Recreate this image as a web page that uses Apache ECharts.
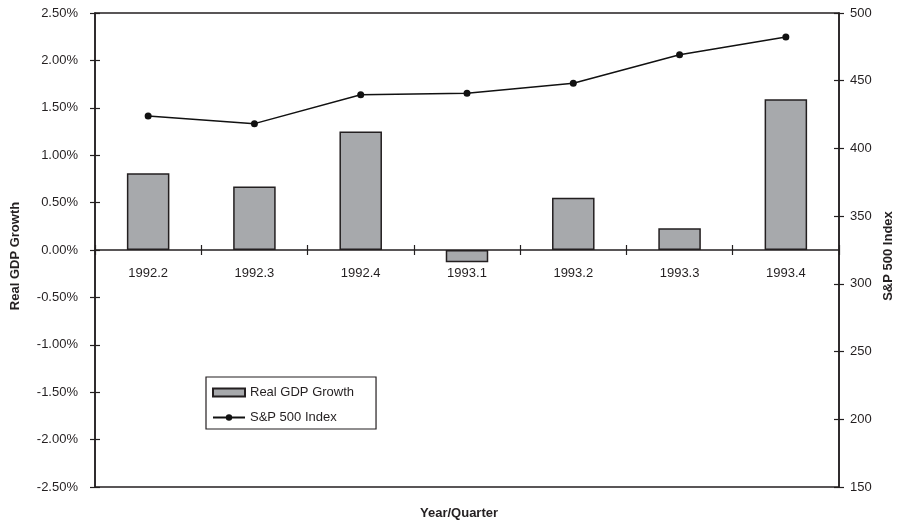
<!DOCTYPE html>
<html>
<head>
<meta charset="utf-8">
<script src="https://cdn.jsdelivr.net/npm/echarts@6/dist/echarts.min.js"></script>
<style>html,body{margin:0;padding:0;background:#fff}#c{width:897px;height:523px}</style>
</head>
<body>
<div id="c"></div>
<script>
const categories = ['1992.2','1992.3','1992.4','1993.1','1993.2','1993.3','1993.4'];
const gdpGrowth = [0.81, 0.67, 1.25, -0.13, 0.55, 0.23, 1.59];
const sp500 = [423.9, 418.3, 439.7, 440.7, 448.1, 469.2, 482.3];

const FONT = 'Liberation Sans, Arial, sans-serif';
const INK = '#231f20';
const TICK = {color: INK, width: 1.2};

const chart = echarts.init(document.getElementById('c'), null, {renderer: 'canvas'});
const L = 95, R = 58, T = 13, B = 36, H = 523;
const zeroY = T + (H - T - B) / 2;
const hidden = {show: false};
const hiddenValue = (gi) => ({type: 'value', gridIndex: gi, show: false, min: -1, max: 1});
const nameText = (text, x, y) => ({
  type: 'text', x: x, y: y, rotation: Math.PI / 2,
  style: {text: text, font: 'bold 13px ' + FONT, fill: INK, align: 'center', verticalAlign: 'middle', textAlign: 'center', textVerticalAlign: 'middle'}
});
chart.setOption({
  animation: false,
  backgroundColor: '#fff',
  textStyle: {fontFamily: FONT, color: INK},
  grid: [
    {left: L, right: R, top: T, bottom: B, show: true, borderColor: INK, borderWidth: 1.5, backgroundColor: 'transparent', outerBoundsMode: 'none', containLabel: false},
    {left: L, right: R, top: T, bottom: B, show: false, outerBoundsMode: 'none', containLabel: false},
    {left: L, right: R, top: T, bottom: H - zeroY, show: false, outerBoundsMode: 'none', containLabel: false},
    {left: L, right: R, top: zeroY, bottom: B, show: false, outerBoundsMode: 'none', containLabel: false}
  ],
  legend: {
    orient: 'vertical', left: 206, top: 377,
    borderColor: INK, borderWidth: 1.2, padding: [9, 22, 5, 6],
    itemWidth: 32, itemHeight: 8, itemGap: 12,
    textStyle: {fontFamily: FONT, fontSize: 13, color: INK},
    data: [{name: 'Real GDP Growth', icon: 'rect'}, {name: 'S&P 500 Index'}]
  },
  graphic: [
    {type: 'text', left: 420, top: 507, style: {text: 'Year/Quarter', font: 'bold 13px ' + FONT, fill: INK}},
    nameText('Real GDP Growth', 15, 256),
    nameText('S&P 500 Index', 888, 256)
  ],
  xAxis: [
    {type: 'category', data: categories, gridIndex: 0, show: false},
    {type: 'category', data: categories, gridIndex: 1, show: false},
    {
      type: 'category', data: categories, gridIndex: 2, position: 'bottom',
      axisLine: {show: true, onZero: false, lineStyle: {color: INK, width: 1.5}},
      axisTick: {show: true, inside: false, length: 5, lineStyle: TICK},
      axisLabel: {margin: 17, fontSize: 13, color: INK, fontFamily: FONT},
      splitLine: hidden
    },
    {
      type: 'category', data: categories, gridIndex: 3, position: 'top',
      axisLine: {show: false, onZero: false},
      axisTick: {show: true, inside: false, length: 5, lineStyle: TICK},
      axisLabel: hidden, splitLine: hidden
    }
  ],
  yAxis: [
    {
      type: 'value', gridIndex: 0, min: -2.5, max: 2.5, interval: 0.5, position: 'left',
      axisLine: {show: true, onZero: false, lineStyle: {color: INK, width: 1.5}},
      axisTick: {show: true, inside: false, length: 5, lineStyle: TICK},
      axisLabel: {margin: 17, fontSize: 13, color: INK, fontFamily: FONT, formatter: v => v.toFixed(2) + '%'},
      splitLine: hidden
    },
    {
      type: 'value', gridIndex: 0, min: 150, max: 500, interval: 50, position: 'right',
      axisLine: {show: true, onZero: false, lineStyle: {color: INK, width: 1.5}},
      axisTick: {show: true, inside: false, length: 5, lineStyle: TICK},
      axisLabel: {margin: 11, fontSize: 13, color: INK, fontFamily: FONT},
      splitLine: hidden
    },
    {
      type: 'value', gridIndex: 1, min: -2.5, max: 2.5, interval: 0.5, position: 'left',
      axisLine: {show: false, onZero: false},
      axisTick: {show: true, inside: true, length: 5, lineStyle: TICK},
      axisLabel: hidden, splitLine: hidden
    },
    {
      type: 'value', gridIndex: 1, min: 150, max: 500, interval: 50, position: 'right',
      axisLine: {show: false, onZero: false},
      axisTick: {show: true, inside: true, length: 5, lineStyle: TICK},
      axisLabel: hidden, splitLine: hidden
    },
    hiddenValue(2),
    hiddenValue(3)
  ],
  series: [
    {
      name: 'Real GDP Growth', type: 'bar', xAxisIndex: 0, yAxisIndex: 0,
      data: gdpGrowth, barWidth: '40%',
      itemStyle: {color: '#a7a9ac', borderColor: INK, borderWidth: 1.5}
    },
    {
      name: 'S&P 500 Index', type: 'line', xAxisIndex: 0, yAxisIndex: 1,
      data: sp500, symbol: 'circle', symbolSize: 7, z: 5,
      lineStyle: {color: '#111', width: 1.5},
      itemStyle: {color: '#111'}
    }
  ]
});
</script>
</body>
</html>
